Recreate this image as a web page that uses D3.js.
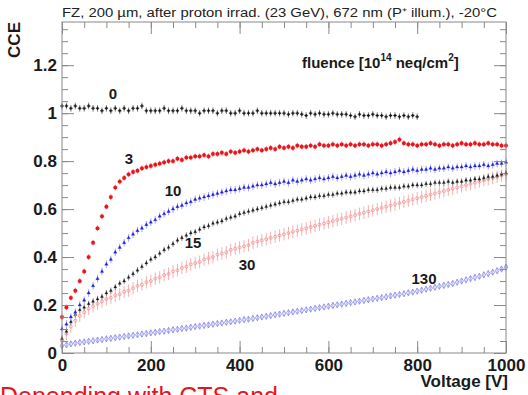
<!DOCTYPE html>
<html>
<head>
<meta charset="utf-8">
<script src="https://cdn.jsdelivr.net/npm/d3@7/dist/d3.min.js"></script>
<style>
  html, body { margin: 0; padding: 0; background: #fff; }
  svg { display: block; font-family: 'Liberation Sans', Arial, sans-serif; }
</style>
</head>
<body>
<script>
// Bias voltage grid [V]
const voltage = [
  0, 10, 20, 30, 40, 50, 60, 70, 80, 90, 100, 110, 120, 130, 140, 150, 160, 170, 180, 190,
  200, 210, 220, 230, 240, 250, 260, 270, 280, 290, 300, 310, 320, 330, 340, 350, 360, 370, 380, 390,
  400, 410, 420, 430, 440, 450, 460, 470, 480, 490, 500, 510, 520, 530, 540, 550, 560, 570, 580, 590,
  600, 610, 620, 630, 640, 650, 660, 670, 680, 690, 700, 710, 720, 730, 740, 750, 760, 770, 780, 790,
  800, 810, 820, 830, 840, 850, 860, 870, 880, 890, 900, 910, 920, 930, 940, 950, 960, 970, 980, 990, 1000
]

// CCE per fluence (1e14 neq/cm2)
const cce0 = [
  1.03, 1.03, 1.02, 1.03, 1.02, 1.02, 1.03, 1.02, 1.02, 1.01, 1.02, 1.01, 1.02, 1.01, 1.02, 1.01, 1.02, 1.02, 1.03, 1.01,
  1.01, 1.01, 1.01, 1.02, 1.01, 1.01, 1.01, 1.02, 1.01, 1.01, 1.01, 1.00, 1.01, 1.01, 1.01, 1.00, 1.01, 1.01, 1.00, 1.00,
  1.01, 1.00, 1.00, 1.00, 1.01, 1.00, 1.00, 1.00, 1.00, 1.00, 1.00, 0.995, 1.00, 1.00, 0.995, 0.99, 1.00, 0.995, 1.00, 0.995,
  0.995, 1.00, 0.995, 0.995, 0.995, 0.99, 0.985, 0.995, 0.99, 0.99, 0.995, 0.99, 0.99, 0.985, 0.99, 0.99, 0.985, 0.99, 0.985, 0.99,
  0.985
]
const cce3 = [
  0.15, 0.19, 0.23, 0.26, 0.30, 0.34, 0.40, 0.46, 0.52, 0.57, 0.61, 0.65, 0.69, 0.715, 0.73, 0.745, 0.755, 0.76, 0.77, 0.775,
  0.78, 0.785, 0.79, 0.795, 0.80, 0.80, 0.81, 0.805, 0.815, 0.815, 0.82, 0.82, 0.825, 0.82, 0.83, 0.83, 0.835, 0.83, 0.84, 0.835,
  0.84, 0.845, 0.84, 0.845, 0.85, 0.845, 0.85, 0.855, 0.85, 0.86, 0.855, 0.86, 0.855, 0.865, 0.86, 0.86, 0.865, 0.86, 0.87, 0.865,
  0.865, 0.87, 0.865, 0.87, 0.865, 0.87, 0.865, 0.87, 0.87, 0.865, 0.87, 0.87, 0.865, 0.87, 0.875, 0.88, 0.89, 0.875, 0.87, 0.87,
  0.865, 0.87, 0.87, 0.875, 0.87, 0.865, 0.87, 0.87, 0.865, 0.87, 0.875, 0.87, 0.87, 0.875, 0.87, 0.87, 0.875, 0.87, 0.87, 0.865, 0.865
]
const cce10 = [
  0.10, 0.12, 0.15, 0.17, 0.20, 0.22, 0.25, 0.28, 0.31, 0.34, 0.37, 0.39, 0.42, 0.44, 0.46, 0.48, 0.495, 0.51, 0.52, 0.535,
  0.545, 0.555, 0.57, 0.58, 0.59, 0.60, 0.61, 0.615, 0.625, 0.63, 0.64, 0.645, 0.65, 0.655, 0.66, 0.665, 0.67, 0.675, 0.68, 0.68,
  0.685, 0.69, 0.69, 0.695, 0.70, 0.70, 0.705, 0.71, 0.705, 0.71, 0.715, 0.71, 0.72, 0.715, 0.72, 0.725, 0.72, 0.725, 0.73, 0.725,
  0.73, 0.735, 0.73, 0.735, 0.74, 0.735, 0.74, 0.745, 0.74, 0.745, 0.75, 0.745, 0.75, 0.755, 0.75, 0.755, 0.76, 0.755, 0.76, 0.765,
  0.76, 0.765, 0.765, 0.77, 0.765, 0.77, 0.77, 0.775, 0.77, 0.775, 0.775, 0.78, 0.775, 0.78, 0.78, 0.785, 0.78, 0.785, 0.79, 0.79, 0.795
]
const cce15 = [
  0.06, 0.09, 0.13, 0.16, 0.18, 0.19, 0.205, 0.215, 0.225, 0.235, 0.25, 0.26, 0.275, 0.29, 0.30, 0.315, 0.33, 0.345, 0.36, 0.375,
  0.39, 0.40, 0.415, 0.43, 0.44, 0.455, 0.47, 0.48, 0.49, 0.50, 0.505, 0.515, 0.525, 0.53, 0.54, 0.545, 0.55, 0.56, 0.565, 0.57,
  0.58, 0.585, 0.59, 0.595, 0.60, 0.605, 0.61, 0.615, 0.62, 0.625, 0.63, 0.63, 0.635, 0.64, 0.64, 0.645, 0.65, 0.65, 0.655, 0.655,
  0.66, 0.66, 0.665, 0.665, 0.67, 0.67, 0.67, 0.675, 0.675, 0.68, 0.68, 0.68, 0.685, 0.685, 0.69, 0.69, 0.69, 0.695, 0.695, 0.70,
  0.70, 0.70, 0.705, 0.705, 0.71, 0.71, 0.71, 0.715, 0.71, 0.715, 0.715, 0.72, 0.72, 0.725, 0.725, 0.73, 0.735, 0.735, 0.74, 0.745, 0.75
]
const cce30 = [
  0.05, 0.08, 0.11, 0.135, 0.155, 0.17, 0.185, 0.195, 0.205, 0.215, 0.225, 0.23, 0.24, 0.245, 0.255, 0.26, 0.27, 0.28, 0.285, 0.295,
  0.30, 0.31, 0.315, 0.325, 0.33, 0.34, 0.345, 0.355, 0.36, 0.37, 0.375, 0.38, 0.39, 0.395, 0.40, 0.41, 0.415, 0.42, 0.43, 0.435,
  0.44, 0.445, 0.45, 0.46, 0.465, 0.47, 0.475, 0.48, 0.485, 0.49, 0.495, 0.50, 0.505, 0.51, 0.515, 0.52, 0.525, 0.53, 0.535, 0.54,
  0.545, 0.55, 0.555, 0.56, 0.565, 0.57, 0.575, 0.58, 0.585, 0.59, 0.595, 0.60, 0.605, 0.61, 0.615, 0.62, 0.625, 0.63, 0.635, 0.64,
  0.645, 0.65, 0.655, 0.66, 0.665, 0.67, 0.675, 0.68, 0.685, 0.69, 0.695, 0.70, 0.705, 0.71, 0.715, 0.72, 0.725, 0.73, 0.735, 0.74, 0.745
]
const cce130 = [
  0.030, 0.034, 0.038, 0.041, 0.044, 0.046, 0.049, 0.051, 0.054, 0.056, 0.059, 0.061, 0.064, 0.066, 0.069, 0.071, 0.074, 0.076, 0.079, 0.081,
  0.084, 0.086, 0.089, 0.091, 0.094, 0.097, 0.099, 0.102, 0.104, 0.107, 0.110, 0.112, 0.115, 0.117, 0.120, 0.123, 0.125, 0.128, 0.130, 0.133,
  0.136, 0.139, 0.141, 0.144, 0.147, 0.150, 0.153, 0.156, 0.159, 0.162, 0.165, 0.168, 0.171, 0.174, 0.177, 0.180, 0.183, 0.186, 0.189, 0.192,
  0.195, 0.198, 0.201, 0.204, 0.207, 0.210, 0.213, 0.216, 0.219, 0.222, 0.225, 0.228, 0.231, 0.234, 0.238, 0.241, 0.244, 0.247, 0.251, 0.254,
  0.258, 0.262, 0.266, 0.270, 0.274, 0.278, 0.282, 0.286, 0.290, 0.295, 0.300, 0.305, 0.310, 0.315, 0.320, 0.326, 0.331, 0.337, 0.343, 0.350, 0.358
]

const fluenceLabels = ['0', '3', '10', '15', '30', '130']
const cceErrors = [0.014, 0.012, 0.016, 0.013, 0.026, 0.013]

const xTicks = [0, 200, 400, 600, 800, 1000]
const yTicks = [0, 0.2, 0.4, 0.6, 0.8, 1, 1.2]

const width = 528
const height = 395
const margins = { left: 62, right: 22, top: 22, bottom: 42 }

// Series styles (drawn back to front)
const seriesList = [
  { label: fluenceLabels[5], data: cce130, err: cceErrors[5], color: '#8585ea', errColor: '#b8b8f6', symbol: d3.symbolDiamond, size: 11, open: true, labelAt: [424, 284] },
  { label: fluenceLabels[4], data: cce30, err: cceErrors[4], color: '#f49090', errColor: '#f7b0b0', symbol: d3.symbolCircle, size: 7, open: true, labelAt: [247, 270] },
  { label: fluenceLabels[3], data: cce15, err: cceErrors[3], color: '#1a1a1a', errColor: '#8a8a8a', symbol: d3.symbolTriangle, size: 4, open: false, labelAt: [193, 248] },
  { label: fluenceLabels[2], data: cce10, err: cceErrors[2], color: '#2020e0', errColor: '#a4a4ff', symbol: d3.symbolTriangle, size: 5, open: false, labelAt: [173, 196] },
  { label: fluenceLabels[1], data: cce3, err: cceErrors[1], color: '#e8141c', errColor: '#f48888', symbol: d3.symbolCircle, size: 11, open: false, labelAt: [129, 164] },
  { label: fluenceLabels[0], data: cce0, err: cceErrors[0], color: '#1a1a1a', errColor: '#8a8a8a', symbol: d3.symbolCross, size: 5, open: false, labelAt: [113, 99] }
]

const svg = d3.select('body').append('svg')
  .attr('width', width)
  .attr('height', height)
  .attr('viewBox', [0, 0, width, height].join(' '))

const xScale = d3.scaleLinear()
  .domain([0, 1000])
  .range([margins.left, width - margins.right])

const yScale = d3.scaleLinear()
  .domain([0, 1.38])
  .range([height - margins.bottom, margins.top])

const x0 = margins.left
const x1 = width - margins.right
const y0 = height - margins.bottom
const y1 = margins.top
const frameColor = '#8a8a8a'

// Data
seriesList.forEach(series => {
  const pts = series.data.map((v, i) => ({ x: voltage[i], y: v }))
  const g = svg.append('g')

  g.selectAll('line')
    .data(pts)
    .enter().append('line')
    .attr('x1', d => xScale(d.x))
    .attr('x2', d => xScale(d.x))
    .attr('y1', d => yScale(d.y - series.err))
    .attr('y2', d => yScale(d.y + series.err))
    .attr('stroke', series.errColor)
    .attr('stroke-width', 1)

  g.selectAll('path')
    .data(pts)
    .enter().append('path')
    .attr('transform', d => `translate(${xScale(d.x)}, ${yScale(d.y)})`)
    .attr('d', d3.symbol().type(series.symbol).size(series.size))
    .attr('fill', series.open ? 'none' : series.color)
    .attr('stroke', series.color)
    .attr('stroke-width', series.open ? 0.8 : 0.3)

  svg.append('text')
    .attr('x', series.labelAt[0])
    .attr('y', series.labelAt[1])
    .attr('text-anchor', 'middle')
    .attr('fill', '#1a1a1a')
    .style('font-size', '15px')
    .style('font-weight', 'bold')
    .text(series.label)
})

// Axes (ROOT style, ticks inside the frame)
const styleAxis = g => {
  g.select('.domain').remove()
  g.selectAll('.tick line').attr('stroke', frameColor)
  g.selectAll('.tick text')
    .attr('fill', '#1a1a1a')
    .style('font-size', '17px')
    .style('font-weight', 'bold')
    .style('font-family', "'Liberation Sans', Arial, sans-serif")
}

const xMinor = d3.range(0, 1001, 50)
const yMinor = d3.range(0, 1.38, 0.05)

svg.append('g')
  .attr('transform', `translate(0, ${y0})`)
  .call(d3.axisBottom(xScale).tickValues(xMinor).tickSize(-6).tickFormat(''))
  .call(styleAxis)
svg.append('g')
  .attr('transform', `translate(0, ${y0})`)
  .call(d3.axisBottom(xScale).tickValues(xTicks).tickSize(-12).tickPadding(6).tickFormat(d3.format('d')))
  .call(styleAxis)
svg.append('g')
  .attr('transform', `translate(0, ${y1})`)
  .call(d3.axisTop(xScale).tickValues(xMinor).tickSize(-6).tickFormat(''))
  .call(styleAxis)
svg.append('g')
  .attr('transform', `translate(0, ${y1})`)
  .call(d3.axisTop(xScale).tickValues(xTicks).tickSize(-12).tickFormat(''))
  .call(styleAxis)

svg.append('g')
  .attr('transform', `translate(${x0}, 0)`)
  .call(d3.axisLeft(yScale).tickValues(yMinor).tickSize(-6).tickFormat(''))
  .call(styleAxis)
svg.append('g')
  .attr('transform', `translate(${x0}, 0)`)
  .call(d3.axisLeft(yScale).tickValues(yTicks).tickSize(-12).tickPadding(5).tickFormat(d => d3.format('~g')(d)))
  .call(styleAxis)
svg.append('g')
  .attr('transform', `translate(${x1}, 0)`)
  .call(d3.axisRight(yScale).tickValues(yMinor).tickSize(-6).tickFormat(''))
  .call(styleAxis)
svg.append('g')
  .attr('transform', `translate(${x1}, 0)`)
  .call(d3.axisRight(yScale).tickValues(yTicks).tickSize(-12).tickFormat(''))
  .call(styleAxis)

// Frame
svg.append('rect')
  .attr('x', x0)
  .attr('y', y1)
  .attr('width', x1 - x0)
  .attr('height', y0 - y1)
  .attr('fill', 'none')
  .attr('stroke', frameColor)
  .attr('stroke-width', 1)

// Titles
svg.append('text')
  .attr('x', x0)
  .attr('y', 17)
  .attr('textLength', 435)
  .attr('lengthAdjust', 'spacingAndGlyphs')
  .attr('fill', '#222')
  .style('font-size', '12px')
  .text('FZ, 200 µm, after proton irrad. (23 GeV), 672 nm (P⁺ illum.), -20°C')

svg.append('text')
  .attr('transform', `translate(20, ${y1}) rotate(-90)`)
  .attr('text-anchor', 'end')
  .attr('fill', '#1a1a1a')
  .style('font-size', '17px')
  .style('font-weight', 'bold')
  .text('CCE')

svg.append('text')
  .attr('x', x1 + 2)
  .attr('y', 387)
  .attr('text-anchor', 'end')
  .attr('fill', '#1a1a1a')
  .style('font-size', '17px')
  .style('font-weight', 'bold')
  .text('Voltage [V]')

const fluence = svg.append('text')
  .attr('x', 302)
  .attr('y', 68)
  .attr('fill', '#1a1a1a')
  .style('font-size', '15px')
  .style('font-weight', 'bold')
fluence.append('tspan').text('fluence [10')
fluence.append('tspan').attr('dy', -7).style('font-size', '10px').text('14')
fluence.append('tspan').attr('dy', 7).text(' neq/cm')
fluence.append('tspan').attr('dy', -7).style('font-size', '10px').text('2')
fluence.append('tspan').attr('dy', 7).text(']')

// Caption cut at the bottom edge
svg.append('text')
  .attr('x', 0)
  .attr('y', 405)
  .attr('fill', '#e8141c')
  .style('font-size', '25px')
  .text('Depending with CTS and')
</script>
</body>
</html>
